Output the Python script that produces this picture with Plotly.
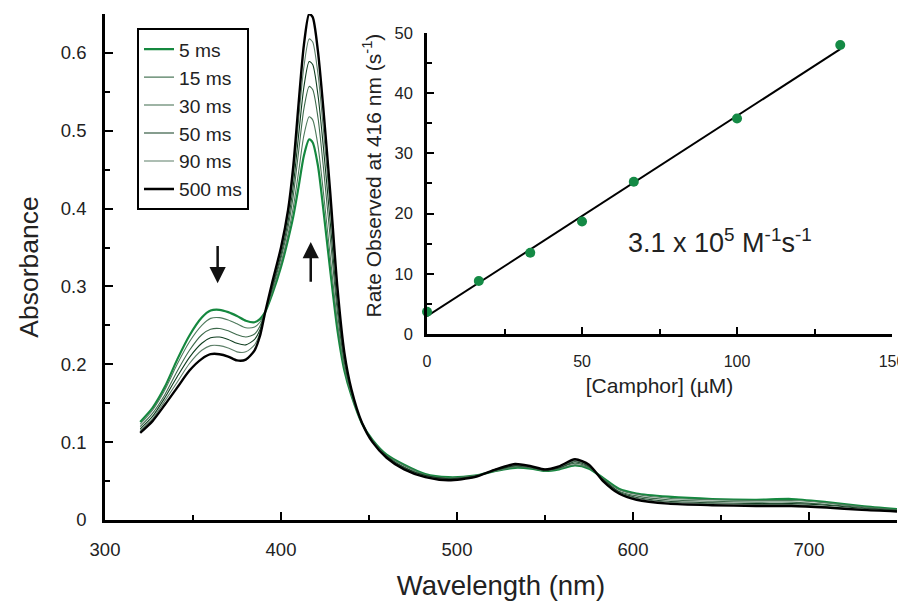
import plotly.graph_objects as go
import numpy as np

# ---------------- main spectra data ----------------
wavelength = [320, 327, 334, 341, 348, 355, 360, 365, 370, 375, 380, 385, 388, 391, 395, 400, 404, 407, 410,
              413, 416, 418, 421, 424, 428, 432, 436, 440, 446, 452, 460, 470, 482, 495, 510, 522, 533, 542,
              550, 558, 567, 575, 583, 592, 602, 620, 645, 670, 690, 710, 730, 750]

abs_5ms = [0.126, 0.144, 0.171, 0.206, 0.237, 0.260, 0.269, 0.270, 0.267, 0.262, 0.256, 0.254, 0.258, 0.267,
           0.290, 0.325, 0.360, 0.390, 0.428, 0.468, 0.489, 0.485, 0.455, 0.400, 0.320, 0.245, 0.192, 0.160,
           0.124, 0.103, 0.084, 0.071, 0.059, 0.055, 0.057, 0.063, 0.067, 0.066, 0.063, 0.065, 0.070, 0.066,
           0.054, 0.040, 0.034, 0.030, 0.027, 0.026, 0.027, 0.023, 0.018, 0.014]
abs_15ms = [0.123, 0.141, 0.167, 0.200, 0.229, 0.250, 0.259, 0.260, 0.257, 0.252, 0.247, 0.248, 0.254, 0.267,
            0.293, 0.330, 0.367, 0.402, 0.447, 0.494, 0.518, 0.514, 0.481, 0.423, 0.338, 0.255, 0.196, 0.161,
            0.124, 0.102, 0.083, 0.070, 0.058, 0.054, 0.057, 0.063, 0.068, 0.067, 0.063, 0.066, 0.071, 0.067,
            0.053, 0.039, 0.033, 0.028, 0.026, 0.025, 0.025, 0.022, 0.017, 0.013]
abs_30ms = [0.120, 0.137, 0.161, 0.191, 0.218, 0.238, 0.245, 0.246, 0.243, 0.238, 0.235, 0.239, 0.249, 0.267,
            0.296, 0.336, 0.376, 0.417, 0.473, 0.528, 0.557, 0.553, 0.517, 0.455, 0.362, 0.268, 0.202, 0.163,
            0.124, 0.102, 0.082, 0.068, 0.057, 0.053, 0.056, 0.064, 0.069, 0.067, 0.064, 0.067, 0.073, 0.068,
            0.052, 0.037, 0.031, 0.026, 0.024, 0.023, 0.023, 0.020, 0.016, 0.013]
abs_50ms = [0.117, 0.133, 0.157, 0.184, 0.209, 0.227, 0.234, 0.235, 0.232, 0.227, 0.225, 0.232, 0.244, 0.267,
            0.299, 0.341, 0.384, 0.430, 0.494, 0.556, 0.589, 0.585, 0.546, 0.481, 0.382, 0.279, 0.206, 0.165,
            0.125, 0.101, 0.082, 0.067, 0.057, 0.053, 0.056, 0.064, 0.070, 0.068, 0.064, 0.067, 0.075, 0.069,
            0.052, 0.036, 0.029, 0.024, 0.022, 0.021, 0.021, 0.019, 0.015, 0.012]
abs_90ms = [0.115, 0.130, 0.153, 0.177, 0.201, 0.218, 0.224, 0.224, 0.221, 0.216, 0.216, 0.225, 0.240, 0.267,
            0.302, 0.345, 0.390, 0.442, 0.514, 0.582, 0.618, 0.614, 0.573, 0.504, 0.400, 0.289, 0.210, 0.166,
            0.125, 0.101, 0.081, 0.066, 0.056, 0.052, 0.055, 0.065, 0.071, 0.068, 0.065, 0.068, 0.076, 0.070,
            0.051, 0.035, 0.028, 0.023, 0.021, 0.020, 0.020, 0.017, 0.014, 0.011]
abs_500ms = [0.112, 0.127, 0.148, 0.170, 0.192, 0.207, 0.213, 0.213, 0.210, 0.205, 0.206, 0.218, 0.236, 0.267,
             0.305, 0.350, 0.398, 0.455, 0.535, 0.610, 0.650, 0.646, 0.602, 0.530, 0.420, 0.300, 0.215, 0.168,
             0.125, 0.100, 0.080, 0.065, 0.055, 0.051, 0.055, 0.065, 0.072, 0.069, 0.065, 0.069, 0.078, 0.071,
             0.050, 0.034, 0.026, 0.021, 0.019, 0.018, 0.018, 0.016, 0.013, 0.011]

series_names = ["5 ms", "15 ms", "30 ms", "50 ms", "90 ms", "500 ms"]
series_values = [abs_5ms, abs_15ms, abs_30ms, abs_50ms, abs_90ms, abs_500ms]
series_colors = ["#15883f", "#4f7a5d", "#3e6a4c", "#0f3d1f", "#5d7f68", "#000000"]
series_widths = [2.2, 1.1, 1.1, 1.1, 1.1, 2.4]

# ---------------- inset data ----------------
camphor_uM = [0, 16.7, 33.3, 50, 66.7, 100, 133.3]
rate_obs = [3.7, 8.8, 13.5, 18.7, 25.3, 35.8, 48.0]

FONT = "Liberation Sans, Arial, Helvetica, sans-serif"
TXT = "#222222"

fig = go.Figure()

for name, vals, col, w in zip(series_names, series_values, series_colors, series_widths):
    fig.add_trace(go.Scatter(x=wavelength, y=vals, mode="lines", name=name,
                             line=dict(color=col, width=w, shape="spline", smoothing=0.7),
                             xaxis="x", yaxis="y"))

# inset: linear fit and points
slope, intercept = np.polyfit(camphor_uM, rate_obs, 1)
fit_x = [camphor_uM[0], camphor_uM[-1]]
fit_y = [intercept + slope * v for v in fit_x]
fig.add_trace(go.Scatter(x=fit_x, y=fit_y, mode="lines", line=dict(color="black", width=2),
                         showlegend=False, xaxis="x2", yaxis="y2"))
fig.add_trace(go.Scatter(x=camphor_uM, y=rate_obs, mode="markers",
                         marker=dict(color="#148a45", size=10), showlegend=False,
                         xaxis="x2", yaxis="y2", cliponaxis=False))

def ax_base(fs, tl):
    return dict(showgrid=False, zeroline=False, showline=True, linecolor="black", linewidth=2.5,
                ticks="inside", tickcolor="black", tickwidth=2, ticklen=tl, automargin=False,
                ticklabeloverflow="allow",
                tickfont=dict(family=FONT, size=fs, color=TXT))

fig.update_layout(
    width=906, height=603,
    margin=dict(l=97, r=17, t=6, b=91),
    paper_bgcolor="white", plot_bgcolor="rgba(0,0,0,0)",
    font=dict(family=FONT, color=TXT),
    xaxis=dict(**ax_base(18.5, 8), range=[300, 750], dtick=100, tick0=300,
               minor=dict(dtick=50, ticks="inside", ticklen=5, tickwidth=1.5, tickcolor="black"),
               ticklabelstandoff=11,
               title=dict(text="Wavelength (nm)", font=dict(family=FONT, size=27.5, color=TXT),
                          standoff=17)),
    yaxis=dict(**ax_base(18.5, 8), range=[0, 0.65], dtick=0.1,
               minor=dict(dtick=0.05, ticks="inside", ticklen=5, tickwidth=1.5, tickcolor="black"),
               ticklabelstandoff=12,
               title=dict(text="Absorbance", font=dict(family=FONT, size=26.5, color=TXT),
                          standoff=15)),
    xaxis2=dict(**ax_base(16, 7), range=[0, 150], dtick=50,
                minor=dict(dtick=25, ticks="inside", ticklen=5, tickwidth=1.5, tickcolor="black"),
                ticklabelstandoff=11,
                domain=[0.4066, 0.9937], anchor="y2",
                title=dict(text="[Camphor] (µM)", font=dict(family=FONT, size=21, color=TXT),
                           standoff=10)),
    yaxis2=dict(**ax_base(16.5, 7), range=[0, 50], dtick=10,
                minor=dict(dtick=5, ticks="inside", ticklen=5, tickwidth=1.5, tickcolor="black"),
                ticklabelstandoff=8,
                domain=[0.3676, 0.9625], anchor="x2"),
    legend=dict(x=0.0404, y=0.972, xanchor="left", yanchor="top",
                bordercolor="black", borderwidth=2, bgcolor="white",
                font=dict(family=FONT, size=19.2, color=TXT),
                itemwidth=30, tracegroupgap=0),
    showlegend=True,
)

# inset y-axis title (placed as rotated text)
fig.add_annotation(x=0.3371, y=0.6808, xref="paper", yref="paper", textangle=-90,
                   text="Rate Observed at 416 nm (s<sup>-1</sup>)", showarrow=False,
                   xanchor="center", yanchor="middle",
                   font=dict(family=FONT, size=21, color=TXT))

fig.add_annotation(x=94.5, y=15.4, xref="x2", yref="y2",
                   text="3.1 x 10<sup>5</sup> M<sup>-1</sup>s<sup>-1</sup>", showarrow=False,
                   font=dict(family=FONT, size=27, color=TXT))

# arrows
fig.add_annotation(x=364, y=0.304, ax=364, ay=0.354, xref="x", yref="y", axref="x", ayref="y",
                   text="", showarrow=True, arrowhead=2, arrowsize=1.3, arrowwidth=2.5, arrowcolor="#111111")
fig.add_annotation(x=416.9, y=0.357, ax=416.9, ay=0.304, xref="x", yref="y", axref="x", ayref="y",
                   text="", showarrow=True, arrowhead=2, arrowsize=1.3, arrowwidth=2.5, arrowcolor="#111111")

fig.write_html("out.html")
